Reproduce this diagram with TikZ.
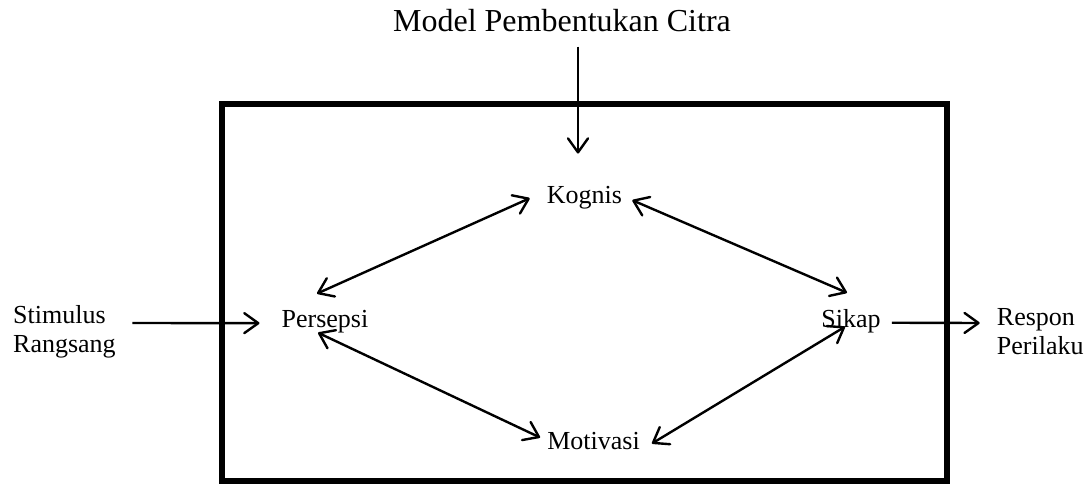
\documentclass[tikz,border=0pt]{standalone}
\usepackage{fontspec}
\setmainfont{Liberation Serif}
\usepackage{tikz}
\usetikzlibrary{arrows.meta,calc}
\newcommand{\lw}{2.4pt}

\begin{document}
\begin{tikzpicture}[x=1pt,y=1pt,
  lbl/.style={inner sep=0pt,font=\fontsize{26}{29}\selectfont},
  arr/.style={line width=\lw,-{Straight Barb[length=14pt,width=20pt,round]}},
  dbl/.style={line width=\lw,{Straight Barb[length=14pt,width=20pt,round]}-{Straight Barb[length=14pt,width=20pt,round]}}]
\useasboundingbox (0,0) rectangle (1090,-484);
\coordinate (tl) at (222,-104);
\coordinate (br) at (947,-481);
\draw[line width=5.6pt] (tl) rectangle (br);

\node[lbl,anchor=base,font=\fontsize{32}{36}\selectfont] (title) at (562,-32) {Model Pembentukan Citra};
\node[lbl,anchor=base] (kognis) at (584.5,-204) {Kognis};
\node[lbl,anchor=base] (persepsi) at (325,-327) {Persepsi};
\node[lbl,anchor=base] (sikap) at (851,-327) {Sikap};
\node[lbl,anchor=base] (motivasi) at (593.5,-449) {Motivasi};
\node[lbl,anchor=west,align=left] (stimulus) at (13,-331.4) {Stimulus\\Rangsang};
\node[lbl,anchor=west,align=left] (respon) at (996.7,-332) {Respon\\Perilaku};

\draw[arr] ([xshift=16pt,yshift=-14pt]title.south) -- ([xshift=-6.5pt,yshift=33pt]kognis.north);
\draw[arr] ([xshift=16.5pt,yshift=8.4pt]stimulus.east) -- ([xshift=-22pt,yshift=-2pt]persepsi.west);
\draw[arr] ([xshift=11pt,yshift=-2pt]sikap.east) -- ([xshift=-17pt,yshift=9pt]respon.west);

\draw[dbl] ([xshift=-8pt,yshift=16pt]persepsi.north) -- ([xshift=-17pt]kognis.west);
\draw[dbl] ([xshift=10pt,yshift=-2pt]kognis.east) -- ([xshift=-4pt,yshift=16pt]sikap.north);
\draw[dbl] ([xshift=-7pt]persepsi.south) -- ([xshift=-7pt,yshift=3pt]motivasi.west);
\draw[dbl] ([xshift=12pt,yshift=-3pt]motivasi.east) -- ([xshift=-6pt,yshift=6pt]sikap.south);
\end{tikzpicture}
\end{document}
